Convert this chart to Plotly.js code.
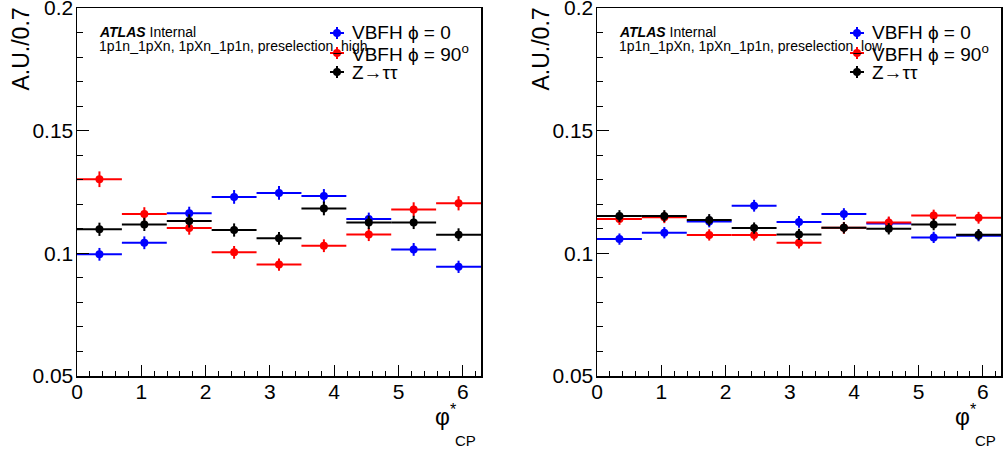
<!DOCTYPE html>
<html>
<head>
<meta charset="utf-8">
<script src="https://cdn.plot.ly/plotly-3.0.1.min.js"></script>
<style>html,body{margin:0;padding:0;background:#fff;}#plot{width:1008px;height:452px;}</style>
</head>
<body>
<div id="plot"></div>
<script>
// ---- data ----
var nBins = 9;
var xMin = 0, xMax = 2 * Math.PI;
var binCenters = [];
for (var i = 0; i < nBins; i++) binCenters.push(xMin + (i + 0.5) * (xMax - xMin) / nBins);
var binHalfWidth = (xMax - xMin) / nBins / 2;

var seriesNames = ["VBFH ϕ = 0", "VBFH ϕ = 90<sup>o</sup>", "Z→ττ"];
var seriesColors = ["#0000ff", "#ff0000", "#000000"];

// left panel: preselection_high
var highVBF0   = [0.0996, 0.1043, 0.1163, 0.1230, 0.1246, 0.1234, 0.1140, 0.1016, 0.0945];
var highVBF90  = [0.1302, 0.1160, 0.1103, 0.1004, 0.0954, 0.1031, 0.1077, 0.1179, 0.1204];
var highZtt    = [0.1098, 0.1118, 0.1132, 0.1095, 0.1061, 0.1183, 0.1126, 0.1126, 0.1076];
var highErrVBF0  = [0.0026, 0.0026, 0.0027, 0.0028, 0.0028, 0.0028, 0.0026, 0.0026, 0.0025];
var highErrVBF90 = [0.0032, 0.0028, 0.0027, 0.0026, 0.0025, 0.0026, 0.0027, 0.0029, 0.0029];
var highErrZtt   = [0.0027, 0.0027, 0.0027, 0.0027, 0.0026, 0.0028, 0.0027, 0.0027, 0.0026];

// right panel: preselection_low
var lowVBF0    = [0.1058, 0.1084, 0.1130, 0.1194, 0.1128, 0.1160, 0.1122, 0.1065, 0.1072];
var lowVBF90   = [0.1140, 0.1147, 0.1075, 0.1075, 0.1043, 0.1104, 0.1126, 0.1154, 0.1145];
var lowZtt     = [0.1152, 0.1152, 0.1136, 0.1103, 0.1077, 0.1104, 0.1100, 0.1118, 0.1076];
var lowErrVBF0  = [0.0023, 0.0023, 0.0024, 0.0024, 0.0024, 0.0024, 0.0024, 0.0023, 0.0023];
var lowErrVBF90 = [0.0024, 0.0024, 0.0023, 0.0023, 0.0023, 0.0024, 0.0024, 0.0024, 0.0024];
var lowErrZtt   = [0.0024, 0.0024, 0.0024, 0.0023, 0.0023, 0.0023, 0.0023, 0.0024, 0.0023];

var yTickVals = [0.05, 0.1, 0.15, 0.2];
var yTickText = ["0.05", "0.1", "0.15", "0.2"];
var xTickVals = [0, 1, 2, 3, 4, 5, 6];
var xTickText = ["0", "1", "2", "3", "4", "5", "6"];
var panelLabels = ["1p1n_1pXn, 1pXn_1p1n, preselection_high", "1p1n_1pXn, 1pXn_1p1n, preselection_low"];

// ---- geometry helpers ----
var W = 1008, H = 452;
function px(x) { return x / W; }
function py(y) { return 1 - y / H; }
var FONT = "Liberation Sans, Arial, Helvetica, sans-serif";

function mk(x, y, err, color, xa, ya) {
  return {
    type: "scatter", mode: "markers", x: x, y: y, xaxis: xa, yaxis: ya,
    marker: {color: color, size: 8, line: {width: 0}},
    error_x: {type: "constant", value: binHalfWidth, width: 0, thickness: 2, color: color},
    error_y: {type: "data", array: err, visible: true, width: 0, thickness: 2, color: color},
    showlegend: false, hoverinfo: "skip"
  };
}

var data = [
  mk(binCenters, highVBF0, highErrVBF0, seriesColors[0], "x", "y"),
  mk(binCenters, highVBF90, highErrVBF90, seriesColors[1], "x", "y"),
  mk(binCenters, highZtt, highErrZtt, seriesColors[2], "x", "y"),
  mk(binCenters, lowVBF0, lowErrVBF0, seriesColors[0], "x2", "y2"),
  mk(binCenters, lowVBF90, lowErrVBF90, seriesColors[1], "x2", "y2"),
  mk(binCenters, lowZtt, lowErrZtt, seriesColors[2], "x2", "y2")
];

function xaxisCfg(dom, anchor, mirrorOf) {
  var a = {
    domain: dom, anchor: anchor, range: [xMin, xMax], showgrid: false, zeroline: false,
    showline: !mirrorOf, linecolor: "#000", linewidth: 1.5, mirror: true,
    ticks: "inside", ticklen: 11, tickwidth: 1, tickcolor: "#000",
    tickvals: xTickVals, ticktext: xTickText, ticklabeloverflow: "allow",
    ticklabelstandoff: -4,
    tickfont: {family: FONT, size: 21, color: "#000"},
    minor: {dtick: 0.2, tick0: 0, ticks: "inside", ticklen: 5.5, tickwidth: 1, tickcolor: "#000", showgrid: false}
  };
  if (mirrorOf) { a.overlaying = mirrorOf; a.side = "top"; a.showticklabels = false; a.ticklen = 10; a.minor.ticklen = 5; }
  return a;
}
function yaxisCfg(dom, anchor, mirrorOf) {
  var a = {
    domain: dom, anchor: anchor, range: [0.05, 0.2], showgrid: false, zeroline: false,
    showline: !mirrorOf, linecolor: "#000", linewidth: 1.5, mirror: true,
    ticks: "inside", ticklen: 12, tickwidth: 1, tickcolor: "#000",
    tickvals: yTickVals, ticktext: yTickText, ticklabeloverflow: "allow",
    ticklabelstandoff: -2,
    tickfont: {family: FONT, size: 21, color: "#000"},
    minor: {dtick: 0.01, tick0: 0.05, ticks: "inside", ticklen: 6, tickwidth: 1, tickcolor: "#000", showgrid: false}
  };
  if (mirrorOf) { a.overlaying = mirrorOf; a.side = "right"; a.showticklabels = false; }
  return a;
}

var yDom = [py(376), py(8)];
var panels = [
  {x0: 77, x1: 481, legX: 337, ytitleX: 20},
  {x0: 597, x1: 1001, legX: 857, ytitleX: 540}
];

var annotations = [], shapes = [];
panels.forEach(function (p, k) {
  // y title
  annotations.push({xref: "paper", yref: "paper", x: px(p.ytitleX), y: py(6), xanchor: "center", yanchor: "top",
    text: "A.U./0.7", textangle: -90, showarrow: false, font: {family: FONT, size: 23, color: "#000"}});
  // x title
  annotations.push({xref: "paper", yref: "paper", x: px(p.x1 - 22), y: py(432), xanchor: "right", yanchor: "bottom",
    text: "φ<sup>*</sup>", showarrow: false, font: {family: FONT, size: 23, color: "#000"}});
  annotations.push({xref: "paper", yref: "paper", x: px(p.x1 - 3), y: py(451), xanchor: "right", yanchor: "bottom",
    text: "CP", showarrow: false, font: {family: FONT, size: 15, color: "#000"}});
  // ATLAS label
  annotations.push({xref: "paper", yref: "paper", x: px(p.x0 + 20), y: py(32), xanchor: "left", yanchor: "middle",
    text: "<b><i>ATLAS</i></b> Internal", showarrow: false, font: {family: FONT, size: 14, color: "#000"}});
  annotations.push({xref: "paper", yref: "paper", x: px(p.x0 + 20), y: py(46), xanchor: "left", yanchor: "middle",
    text: panelLabels[k], showarrow: false, font: {family: FONT, size: 14, color: "#000"}});
  // legend
  var rows = [33, 53, 72];
  for (var j = 0; j < 3; j++) {
    var cx = p.legX, cy = rows[j], c = seriesColors[j];
    shapes.push({type: "line", xref: "paper", yref: "paper", x0: px(cx - 7), x1: px(cx + 7), y0: py(cy), y1: py(cy), line: {color: c, width: 2}});
    shapes.push({type: "line", xref: "paper", yref: "paper", x0: px(cx), x1: px(cx), y0: py(cy - 6), y1: py(cy + 6), line: {color: c, width: 2}});
    shapes.push({type: "circle", xref: "paper", yref: "paper", x0: px(cx - 4), x1: px(cx + 4), y0: py(cy + 4), y1: py(cy - 4), fillcolor: c, line: {color: c, width: 0}});
    annotations.push({xref: "paper", yref: "paper", x: px(cx + 13), y: py(cy), xanchor: "left", yanchor: "middle",
      text: seriesNames[j], showarrow: false, font: {family: FONT, size: 19, color: "#000"}});
  }
});

var layout = {
  width: W, height: H, margin: {l: 0, r: 0, t: 0, b: 0},
  paper_bgcolor: "#fff", plot_bgcolor: "#fff", showlegend: false,
  xaxis: xaxisCfg([px(77), px(481)], "y"),
  yaxis: yaxisCfg(yDom, "x"),
  xaxis2: xaxisCfg([px(597), px(1001)], "y2"),
  yaxis2: yaxisCfg(yDom, "x2"),
  xaxis3: xaxisCfg([px(77), px(481)], "y", "x"),
  yaxis3: yaxisCfg(yDom, "x", "y"),
  xaxis4: xaxisCfg([px(597), px(1001)], "y2", "x2"),
  yaxis4: yaxisCfg(yDom, "x2", "y2"),
  annotations: annotations, shapes: shapes
};

Plotly.newPlot("plot", data, layout, {staticPlot: true, displayModeBar: false});
</script>
</body>
</html>
